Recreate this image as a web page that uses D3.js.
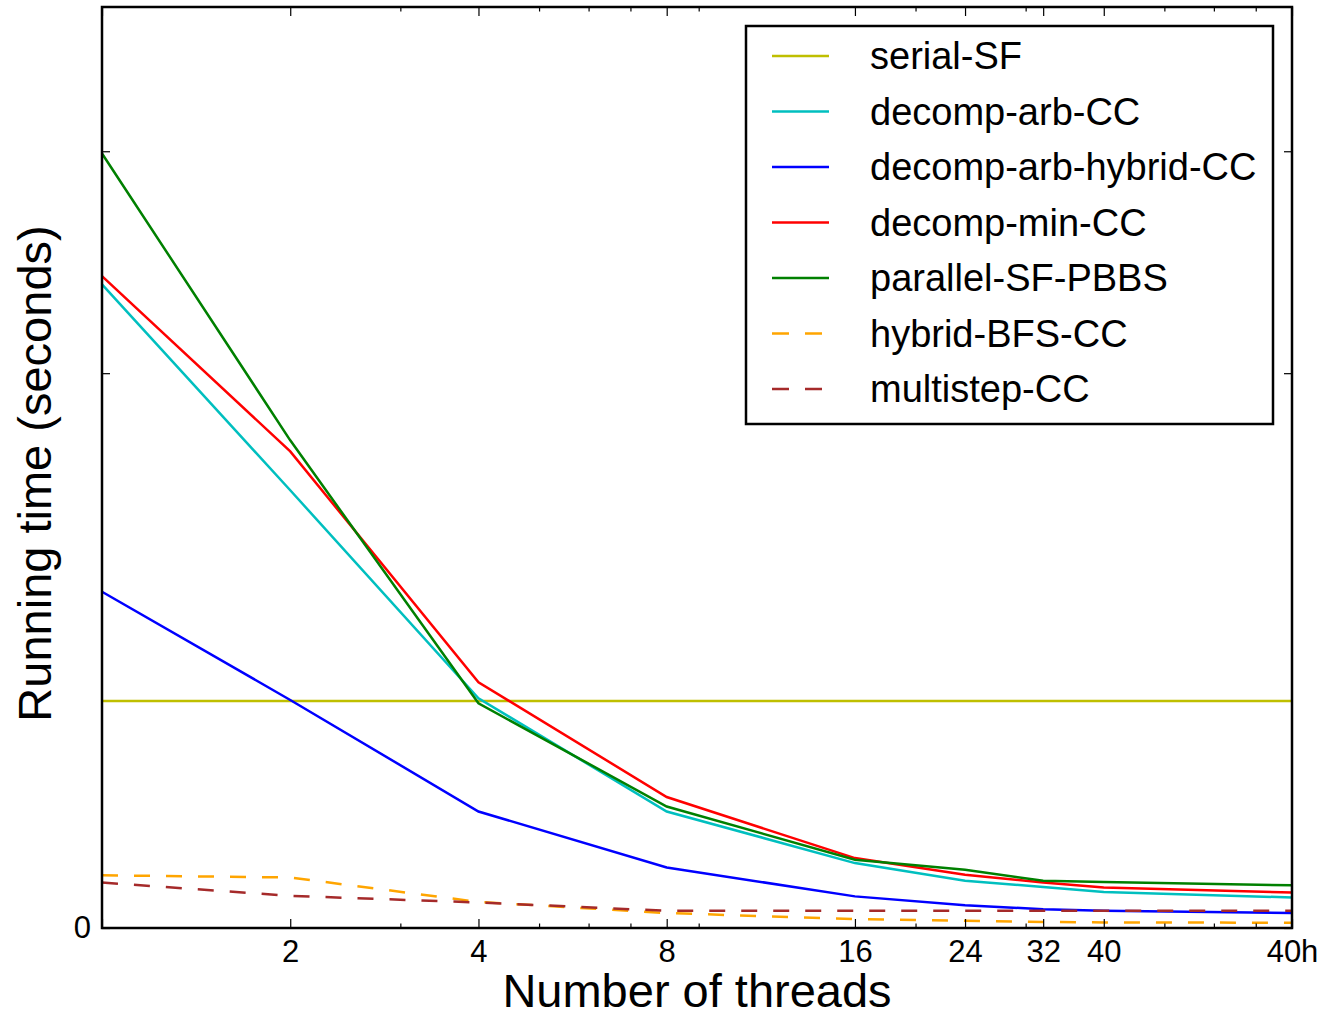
<!DOCTYPE html>
<html lang="en">
<head>
<meta charset="UTF-8">
<title>Running time vs threads</title>
<script src="https://d3js.org/d3.v7.min.js"></script>
<style>
    body { margin: 0; background: white; }
    svg { display: block; }
    text { font-family: 'Liberation Sans', Arial, Helvetica, sans-serif; fill: black; }
    .tick line { stroke: black; stroke-width: 1.2px; }
</style>
</head>
<body>
<svg id="chart" width="1325" height="1016"></svg>
<script>
    // thread counts (40h = 40 with hyperthreading, plotted at 80)
    const threads = [1, 2, 4, 8, 16, 24, 32, 40, 80];
    const threadLabels = ['', '2', '4', '8', '16', '24', '32', '40', '40h'];
    const minorTicks = [3, 5, 6, 7, 9, 20, 30, 50, 60, 70];
    const yTicks = [0, 1.0, 1.4];

    const serialSF        = [0.409, 0.409, 0.409, 0.409, 0.409, 0.409, 0.409, 0.409, 0.409];
    const decompArbCC     = [1.160, 0.789, 0.414, 0.210, 0.117, 0.085, 0.074, 0.065, 0.055];
    const decompArbHybrid = [0.606, 0.411, 0.210, 0.109, 0.057, 0.041, 0.034, 0.031, 0.027];
    const decompMinCC     = [1.175, 0.859, 0.443, 0.236, 0.126, 0.096, 0.082, 0.073, 0.064];
    const parallelSFPBBS  = [1.396, 0.879, 0.405, 0.219, 0.123, 0.105, 0.085, 0.083, 0.077];
    const hybridBFSCC     = [0.095, 0.091, 0.047, 0.027, 0.016, 0.013, 0.011, 0.010, 0.0095];
    const multistepCC     = [0.082, 0.058, 0.046, 0.031, 0.031, 0.031, 0.031, 0.031, 0.031];

    const series = [
        { name: 'serial-SF', values: serialSF, color: '#bfbf00', dash: null },
        { name: 'decomp-arb-CC', values: decompArbCC, color: '#00bfbf', dash: null },
        { name: 'decomp-arb-hybrid-CC', values: decompArbHybrid, color: '#0000ff', dash: null },
        { name: 'decomp-min-CC', values: decompMinCC, color: '#ff0000', dash: null },
        { name: 'parallel-SF-PBBS', values: parallelSFPBBS, color: '#008000', dash: null },
        { name: 'hybrid-BFS-CC', values: hybridBFSCC, color: '#ffa500', dash: '16,16' },
        { name: 'multistep-CC', values: multistepCC, color: '#a52a2a', dash: '16,16' }
    ];

    const plotLeft = 102, plotRight = 1292, plotTop = 7, plotBottom = 928;

    const svg = d3.select('#chart');

    const x = d3.scaleLog().base(2).domain([1, 80]).range([plotLeft, plotRight]);
    const y = d3.scaleLinear().domain([0, 1.66]).range([plotBottom, plotTop]);

    // data lines
    const line = d3.line()
        .x((d, i) => x(threads[i]))
        .y(d => y(d));

    svg.append('g')
        .selectAll('path')
        .data(series)
        .enter().append('path')
        .attr('d', d => line(d.values))
        .attr('fill', 'none')
        .attr('stroke', d => d.color)
        .attr('stroke-width', 2.5)
        .attr('stroke-dasharray', d => d.dash);

    // axes: ticks pointing inward on all four sides
    svg.append('g')
        .attr('transform', `translate(0,${plotBottom})`)
        .call(d3.axisBottom(x).tickValues(threads)
            .tickFormat((d, i) => threadLabels[i]).tickSize(-9).tickPadding(12))
        .call(g => g.select('.domain').remove())
        .selectAll('text').style('font-size', '31px');

    svg.append('g')
        .attr('transform', `translate(0,${plotBottom})`)
        .call(d3.axisBottom(x).tickValues(minorTicks).tickFormat('').tickSize(-4.5))
        .call(g => g.select('.domain').remove());

    svg.append('g')
        .attr('transform', `translate(0,${plotTop})`)
        .call(d3.axisTop(x).tickValues(threads).tickFormat('').tickSize(-9))
        .call(g => g.select('.domain').remove());

    svg.append('g')
        .attr('transform', `translate(0,${plotTop})`)
        .call(d3.axisTop(x).tickValues(minorTicks).tickFormat('').tickSize(-4.5))
        .call(g => g.select('.domain').remove());

    svg.append('g')
        .attr('transform', `translate(${plotLeft},0)`)
        .call(d3.axisLeft(y).tickValues(yTicks)
            .tickFormat(d => d === 0 ? '0' : '').tickSize(-8).tickPadding(11))
        .call(g => g.select('.domain').remove())
        .selectAll('text').style('font-size', '31px');

    svg.append('g')
        .attr('transform', `translate(${plotRight},0)`)
        .call(d3.axisRight(y).tickValues(yTicks).tickFormat('').tickSize(-8))
        .call(g => g.select('.domain').remove());

    // frame
    svg.append('rect')
        .attr('x', plotLeft).attr('y', plotTop)
        .attr('width', plotRight - plotLeft).attr('height', plotBottom - plotTop)
        .attr('fill', 'none')
        .attr('stroke', 'black')
        .attr('stroke-width', 2.5);

    // axis titles
    svg.append('text')
        .attr('x', (plotLeft + plotRight) / 2)
        .attr('y', 1007)
        .attr('text-anchor', 'middle')
        .style('font-size', '47px')
        .text('Number of threads');

    svg.append('text')
        .attr('transform', `translate(51,${(plotTop + plotBottom) / 2 + 6}) rotate(-90)`)
        .attr('text-anchor', 'middle')
        .style('font-size', '47px')
        .text('Running time (seconds)');

    // legend
    const legend = svg.append('g').attr('transform', 'translate(746,26)');
    legend.append('rect')
        .attr('width', 527).attr('height', 398)
        .attr('fill', 'white')
        .attr('stroke', 'black')
        .attr('stroke-width', 2.5);

    const row = legend.selectAll('g.row')
        .data(series)
        .enter().append('g')
        .attr('class', 'row')
        .attr('transform', (d, i) => `translate(0,${30 + i * 55.5})`);

    row.append('line')
        .attr('x1', 26).attr('x2', d => d.dash ? 82 : 83)
        .attr('stroke', d => d.color)
        .attr('stroke-width', 2.5)
        .attr('stroke-dasharray', d => d.dash ? '17,16' : null);

    row.append('text')
        .attr('x', 124)
        .attr('y', 13)
        .style('font-size', '38px')
        .text(d => d.name);
</script>
</body>
</html>
